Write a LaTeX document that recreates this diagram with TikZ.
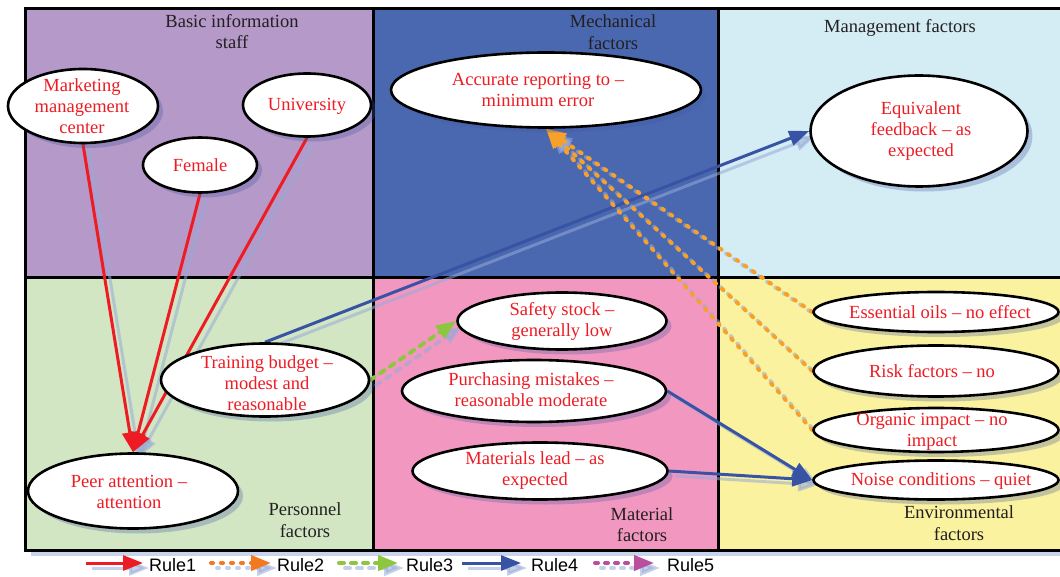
\documentclass[tikz,border=0pt]{standalone}
\usepackage{fontspec}
\setmainfont{Liberation Serif}
\newfontfamily\legendfont{Liberation Sans}
\usetikzlibrary{shapes.geometric,arrows.meta,shadows}

\definecolor{pnlPurple}{RGB}{181,153,200}
\definecolor{pnlBlue}{RGB}{74,104,176}
\definecolor{pnlSky}{RGB}{212,236,244}
\definecolor{pnlGreen}{RGB}{210,230,196}
\definecolor{pnlPink}{RGB}{242,152,192}
\definecolor{pnlYellow}{RGB}{250,242,158}
\definecolor{frameShade}{RGB}{200,212,236}
\definecolor{txtRed}{RGB}{237,28,36}
\definecolor{txtDark}{RGB}{35,31,32}
\definecolor{cRed}{RGB}{237,28,36}
\definecolor{cOrange}{RGB}{247,160,42}
\definecolor{cOrangeKey}{RGB}{244,120,32}
\definecolor{cGreen}{RGB}{141,198,63}
\definecolor{cBlue}{RGB}{57,83,164}
\definecolor{cPurple}{RGB}{184,80,158}
\definecolor{ghostCol}{RGB}{150,170,215}
\definecolor{ovalShade}{RGB}{70,90,160}

\pgfdeclarelayer{back}
\pgfdeclarelayer{conn}
\pgfsetlayers{back,conn,main}

\begin{document}
\begin{tikzpicture}[x=1pt,y=-1pt,
  oval/.style={ellipse, draw=black, line width=2.6pt, fill=white, inner sep=0pt,
    drop shadow={shadow xshift=5pt, shadow yshift=-5pt, fill=ovalShade, opacity=.3}},
  redtxt/.style={text=txtRed, align=center, inner sep=0pt,
    font=\fontsize{18.5}{21}\selectfont},
  areatxt/.style={text=txtDark, align=center, inner sep=0pt,
    font=\fontsize{18.5}{21.5}\selectfont},
  keytxt/.style={text=black, anchor=west, inner sep=0pt,
    font=\legendfont\fontsize{18}{20}\selectfont},
  tip/.style={-{Triangle[length=20pt,width=15pt]}},
  ruleA/.style={tip, line width=3pt, draw=cRed},
  ruleB/.style={tip, line width=4pt, draw=cOrange, line cap=round, dash pattern=on 2pt off 8pt},
  ruleC/.style={tip, line width=4pt, draw=cGreen, line cap=round, dash pattern=on 5pt off 7pt},
  ruleD/.style={tip, line width=3pt, draw=cBlue},
  ruleE/.style={tip, line width=4pt, draw=cPurple, line cap=round, dash pattern=on 3pt off 7pt},
  ghost/.style={draw=ghostCol, opacity=.55, transform canvas={shift={(6pt,-5pt)}}},
  frame/.style={draw=black, line width=3pt}
]
\useasboundingbox (0,0) rectangle (1060,577);

% ---------- six panels ----------
\begin{pgfonlayer}{back}
  \fill[frameShade] (31,15) rectangle (1066,556);
  \fill[pnlPurple] (25,9)   rectangle (373,278);
  \fill[pnlBlue]   (373,9)  rectangle (718,278);
  \fill[pnlSky]    (718,8)  rectangle (1066,279);
  \fill[pnlGreen]  (25,278) rectangle (373,550);
  \fill[pnlPink]   (373,278) rectangle (718,550);
  \fill[pnlYellow] (718,279) rectangle (1066,550);
  \draw[frame] (25,9) rectangle (1066,550);
  \draw[frame] (25,278) -- (1066,278);
  \draw[frame] (373,9) -- (373,550);
  \draw[frame] (718,8) -- (718,550);
\end{pgfonlayer}

% ---------- panel titles ----------
\node[areatxt] (tBasic) at (232,31.5) {Basic information\\staff};
\node[areatxt] (tMech)  at (613,32)   {Mechanical\\factors};
\node[areatxt] (tMgmt)  at (900,28)   {Management factors};
\node[areatxt] (tPers)  at (305,520)  {Personnel\\factors};
\node[areatxt] (tMat)   at (642,524.5){Material\\factors};
\node[areatxt] (tEnv)   at (959,523)  {Environmental\\factors};

% ---------- factor ovals ----------
\node[oval, minimum width=150pt, minimum height=74pt]  (mk)  at (83,106)  {};
\node[oval, minimum width=114pt, minimum height=55pt]  (fe)  at (200,165) {};
\node[oval, minimum width=128pt, minimum height=63pt]  (un)  at (307,105) {};
\node[oval, minimum width=310pt, minimum height=75pt]  (acc) at (546,90)  {};
\node[oval, minimum width=217pt, minimum height=111pt] (eq)  at (919,131) {};
\node[oval, minimum width=208pt, minimum height=73pt]  (tb)  at (265,380) {};
\node[oval, minimum width=210pt, minimum height=75pt]  (pa)  at (133,491) {};
\node[oval, minimum width=209pt, minimum height=57pt]  (ss)  at (562,321) {};
\node[oval, minimum width=264pt, minimum height=62pt]  (pm)  at (534,391) {};
\node[oval, minimum width=255pt, minimum height=57pt]  (ml)  at (540,471) {};
\node[oval, minimum width=245pt, minimum height=40pt]  (eo)  at (936,312) {};
\node[oval, minimum width=245pt, minimum height=51pt]  (rf)  at (936,371) {};
\node[oval, minimum width=245pt, minimum height=44pt]  (oi)  at (936,430) {};
\node[oval, minimum width=245pt, minimum height=39pt]  (nc)  at (936,480) {};

\node[redtxt] (mkT)  at (82,106)   {Marketing\\management\\center};
\node[redtxt] (feT)  at (200,165)  {Female};
\node[redtxt] (unT)  at (307,106)  {University};
\node[redtxt] (accT) at (538,90)   {Accurate reporting to –\\minimum error};
\node[redtxt] (eqT)  at (921,131)  {Equivalent\\feedback – as\\expected};
\node[redtxt] (tbT)  at (267,383)  {Training budget –\\modest and\\reasonable};
\node[redtxt] (paT)  at (129,492)  {Peer attention –\\attention};
\node[redtxt] (ssT)  at (562,321)  {Safety stock –\\generally low};
\node[redtxt] (pmT)  at (531,390)  {Purchasing mistakes –\\reasonable moderate};
\node[redtxt] (mlT)  at (535,471)  {Materials lead – as\\expected};
\node[redtxt] (eoT)  at (940,312)  {Essential oils – no effect};
\node[redtxt] (rfT)  at (932,371)  {Risk factors – no};
\node[redtxt] (oiT)  at (932,431.5){Organic impact – no\\impact};
\node[redtxt] (ncT)  at (941,481)  {Noise conditions – quiet};

% ---------- rule connectors ----------
\begin{pgfonlayer}{conn}
  % soft offset copies
  \draw[ruleA, ghost] (mk.south) -- (pa.north);
  \draw[ruleA, ghost] (fe.south) -- (pa.north);
  \draw[ruleA, ghost] (un.south) -- (pa.north);
  \draw[ruleB, ghost] (eo.west) -- (acc.south);
  \draw[ruleB, ghost] (rf.west) -- (acc.south);
  \draw[ruleB, ghost] (oi.west) -- (acc.south);
  \draw[ruleC, ghost] (tb.east) -- (ss.west);
  \draw[ruleD, ghost] (tb.north) -- (eq.west);
  \draw[ruleD, ghost] (pm.east) -- (nc.west);
  \draw[ruleD, ghost] (ml.east) -- (nc.west);
  % Rule1
  \draw[ruleA] (mk.south) -- (pa.north);
  \draw[ruleA] (fe.south) -- (pa.north);
  \draw[ruleA] (un.south) -- (pa.north);
  % Rule4
  \draw[ruleD] (tb.north) -- (eq.west);
  \draw[ruleD] (pm.east) -- (nc.west);
  \draw[ruleD] (ml.east) -- (nc.west);
  % Rule2
  \draw[ruleB] (eo.west) -- (acc.south);
  \draw[ruleB] (rf.west) -- (acc.south);
  \draw[ruleB] (oi.west) -- (acc.south);
  % Rule3
  \draw[ruleC] (tb.east) -- (ss.west);
\end{pgfonlayer}

% ---------- key ----------
\coordinate (k1a) at (86,563);  \coordinate (k1b) at (143,563);
\coordinate (k2a) at (211,563); \coordinate (k2b) at (271,563);
\coordinate (k3a) at (339,563); \coordinate (k3b) at (398,563);
\coordinate (k4a) at (462,563); \coordinate (k4b) at (521,563);
\coordinate (k5a) at (595,563); \coordinate (k5b) at (654,563);

\draw[ruleA, ghost] (k1a) -- (k1b);
\draw[ruleB, ghost] (k2a) -- (k2b);
\draw[ruleC, ghost] (k3a) -- (k3b);
\draw[ruleD, ghost] (k4a) -- (k4b);
\draw[ruleE, ghost] (k5a) -- (k5b);
\draw[ruleA] (k1a) -- (k1b);
\draw[ruleB, draw=cOrangeKey] (k2a) -- (k2b);
\draw[ruleC] (k3a) -- (k3b);
\draw[ruleD] (k4a) -- (k4b);
\draw[ruleE] (k5a) -- (k5b);

\node[keytxt] (k1) at (149,565) {Rule1};
\node[keytxt] (k2) at (277,565) {Rule2};
\node[keytxt] (k3) at (406,565) {Rule3};
\node[keytxt] (k4) at (531,565) {Rule4};
\node[keytxt] (k5) at (667,565) {Rule5};
\end{tikzpicture}
\end{document}
